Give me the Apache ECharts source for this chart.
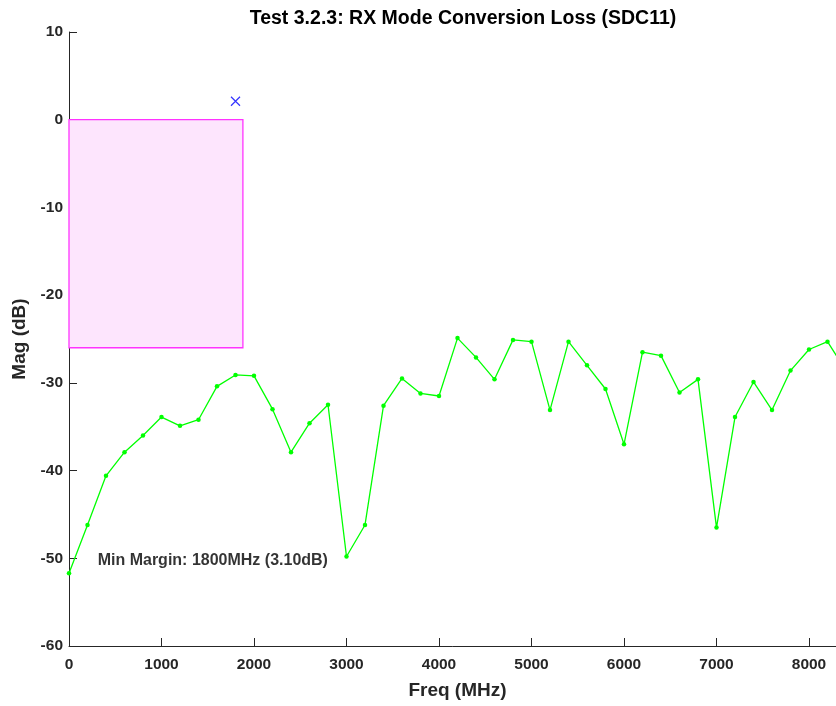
<!DOCTYPE html>
<html>
<head>
<meta charset="utf-8">
<script src="https://cdn.jsdelivr.net/npm/echarts@6/dist/echarts.min.js"></script>
<style>
  html, body { margin: 0; padding: 0; background: #fff; }
  #chart { width: 836px; height: 706px; }
</style>
</head>
<body>
<div id="chart"></div>
<script>
// Measured SDC11 mode-conversion magnitude, one point every 200 MHz
const freqMHz = [0, 200, 400, 600, 800, 1000, 1200, 1400, 1600, 1800,
  2000, 2200, 2400, 2600, 2800, 3000, 3200, 3400, 3600, 3800,
  4000, 4200, 4400, 4600, 4800, 5000, 5200, 5400, 5600, 5800,
  6000, 6200, 6400, 6600, 6800, 7000, 7200, 7400, 7600, 7800,
  8000, 8200, 8400];
const magDB = [-51.7, -46.2, -40.6, -37.9, -36.0, -33.9, -34.9, -34.2, -30.4, -29.1,
  -29.2, -33.0, -37.9, -34.6, -32.5, -49.8, -46.2, -32.6, -29.5, -31.2,
  -31.5, -24.9, -27.1, -29.6, -25.1, -25.3, -33.1, -25.3, -28.0, -30.7,
  -37.0, -26.5, -26.9, -31.1, -29.6, -46.5, -33.9, -29.9, -33.1, -28.6,
  -26.2, -25.3, -28.6];

// Limit mask region (frequency span and level span)
const maskFreq = [0, 1880];
const maskLevel = [0, -26];

// Worst-case margin marker and annotation
const markerPoint = [1800, 2.1];
const marginText = 'Min Margin: 1800MHz (3.10dB)';
const marginTextPos = [310, -50.3];

// Axis ranges
const xRange = [0, 8400, 1000];
const yRange = [-60, 10, 10];

const titleText = 'Test 3.2.3: RX Mode Conversion Loss (SDC11)';
const xName = 'Freq (MHz)';
const yName = 'Mag (dB)';

const FONT = 'Arial, "Liberation Sans", Helvetica, sans-serif';
const AXIS_COLOR = '#262626';

const chart = echarts.init(document.getElementById('chart'), null, { renderer: 'canvas' });

const seriesData = freqMHz.map((f, i) => [f, magDB[i]]);

chart.setOption({
  animation: false,
  backgroundColor: '#ffffff',
  title: {
    text: titleText,
    left: 458,
    textAlign: 'center',
    top: 4,
    textStyle: { fontFamily: FONT, fontSize: 19.5, fontWeight: 'bold', color: '#000000' }
  },
  grid: { left: 69, top: 32, width: 777, height: 614, containLabel: false, outerBoundsMode: 'none' },
  xAxis: {
    type: 'value',
    min: xRange[0], max: xRange[1], interval: xRange[2],
    name: xName,
    nameLocation: 'middle',
    nameGap: 35,
    nameTextStyle: { fontFamily: FONT, fontSize: 19, fontWeight: 'bold', color: AXIS_COLOR },
    axisLine: { show: true, onZero: false, lineStyle: { color: AXIS_COLOR, width: 1 } },
    axisTick: { show: true, inside: true, length: 8, lineStyle: { color: AXIS_COLOR } },
    axisLabel: {
      fontFamily: FONT, fontSize: 15.5, fontWeight: 'bold', color: AXIS_COLOR, margin: 11,
      showMaxLabel: false,
      formatter: v => String(v)
    },
    splitLine: { show: false }
  },
  yAxis: {
    type: 'value',
    min: yRange[0], max: yRange[1], interval: yRange[2],
    name: yName,
    nameLocation: 'middle',
    nameGap: 37,
    nameTextStyle: { fontFamily: FONT, fontSize: 19, fontWeight: 'bold', color: AXIS_COLOR },
    axisLine: { show: true, onZero: false, lineStyle: { color: AXIS_COLOR, width: 1 } },
    axisTick: { show: true, inside: true, length: 8, lineStyle: { color: AXIS_COLOR } },
    axisLabel: { fontFamily: FONT, fontSize: 15.5, fontWeight: 'bold', color: AXIS_COLOR, margin: 6 },
    splitLine: { show: false }
  },
  series: [
    {
      name: 'mask',
      type: 'line',
      data: [],
      silent: true,
      markArea: {
        silent: true,
        itemStyle: { color: '#fde5fd', borderColor: '#ff33ff', borderWidth: 1.3 },
        data: [[{ coord: [maskFreq[0], maskLevel[0]] }, { coord: [maskFreq[1], maskLevel[1]] }]]
      }
    },
    {
      name: 'SDC11',
      type: 'line',
      data: seriesData,
      clip: true,
      symbol: 'circle',
      symbolSize: 4.5,
      showSymbol: true,
      lineStyle: { color: '#00ff00', width: 1.3 },
      itemStyle: { color: '#00ff00' },
      z: 3
    },
    {
      name: 'marker',
      type: 'scatter',
      data: [markerPoint],
      symbol: 'path://M0,0L10,10M10,0L0,10',
      symbolSize: 9,
      itemStyle: { color: 'rgba(0,0,0,0)', borderColor: '#0000ff', borderWidth: 1.2 },
      z: 4
    },
    {
      name: 'note',
      type: 'scatter',
      data: [marginTextPos],
      symbolSize: 0,
      silent: true,
      label: {
        show: true,
        position: 'right',
        distance: 0,
        formatter: marginText,
        fontFamily: FONT,
        fontSize: 16,
        fontWeight: 'bold',
        color: '#000000'
      },
      z: 5
    }
  ]
});
</script>
</body>
</html>
